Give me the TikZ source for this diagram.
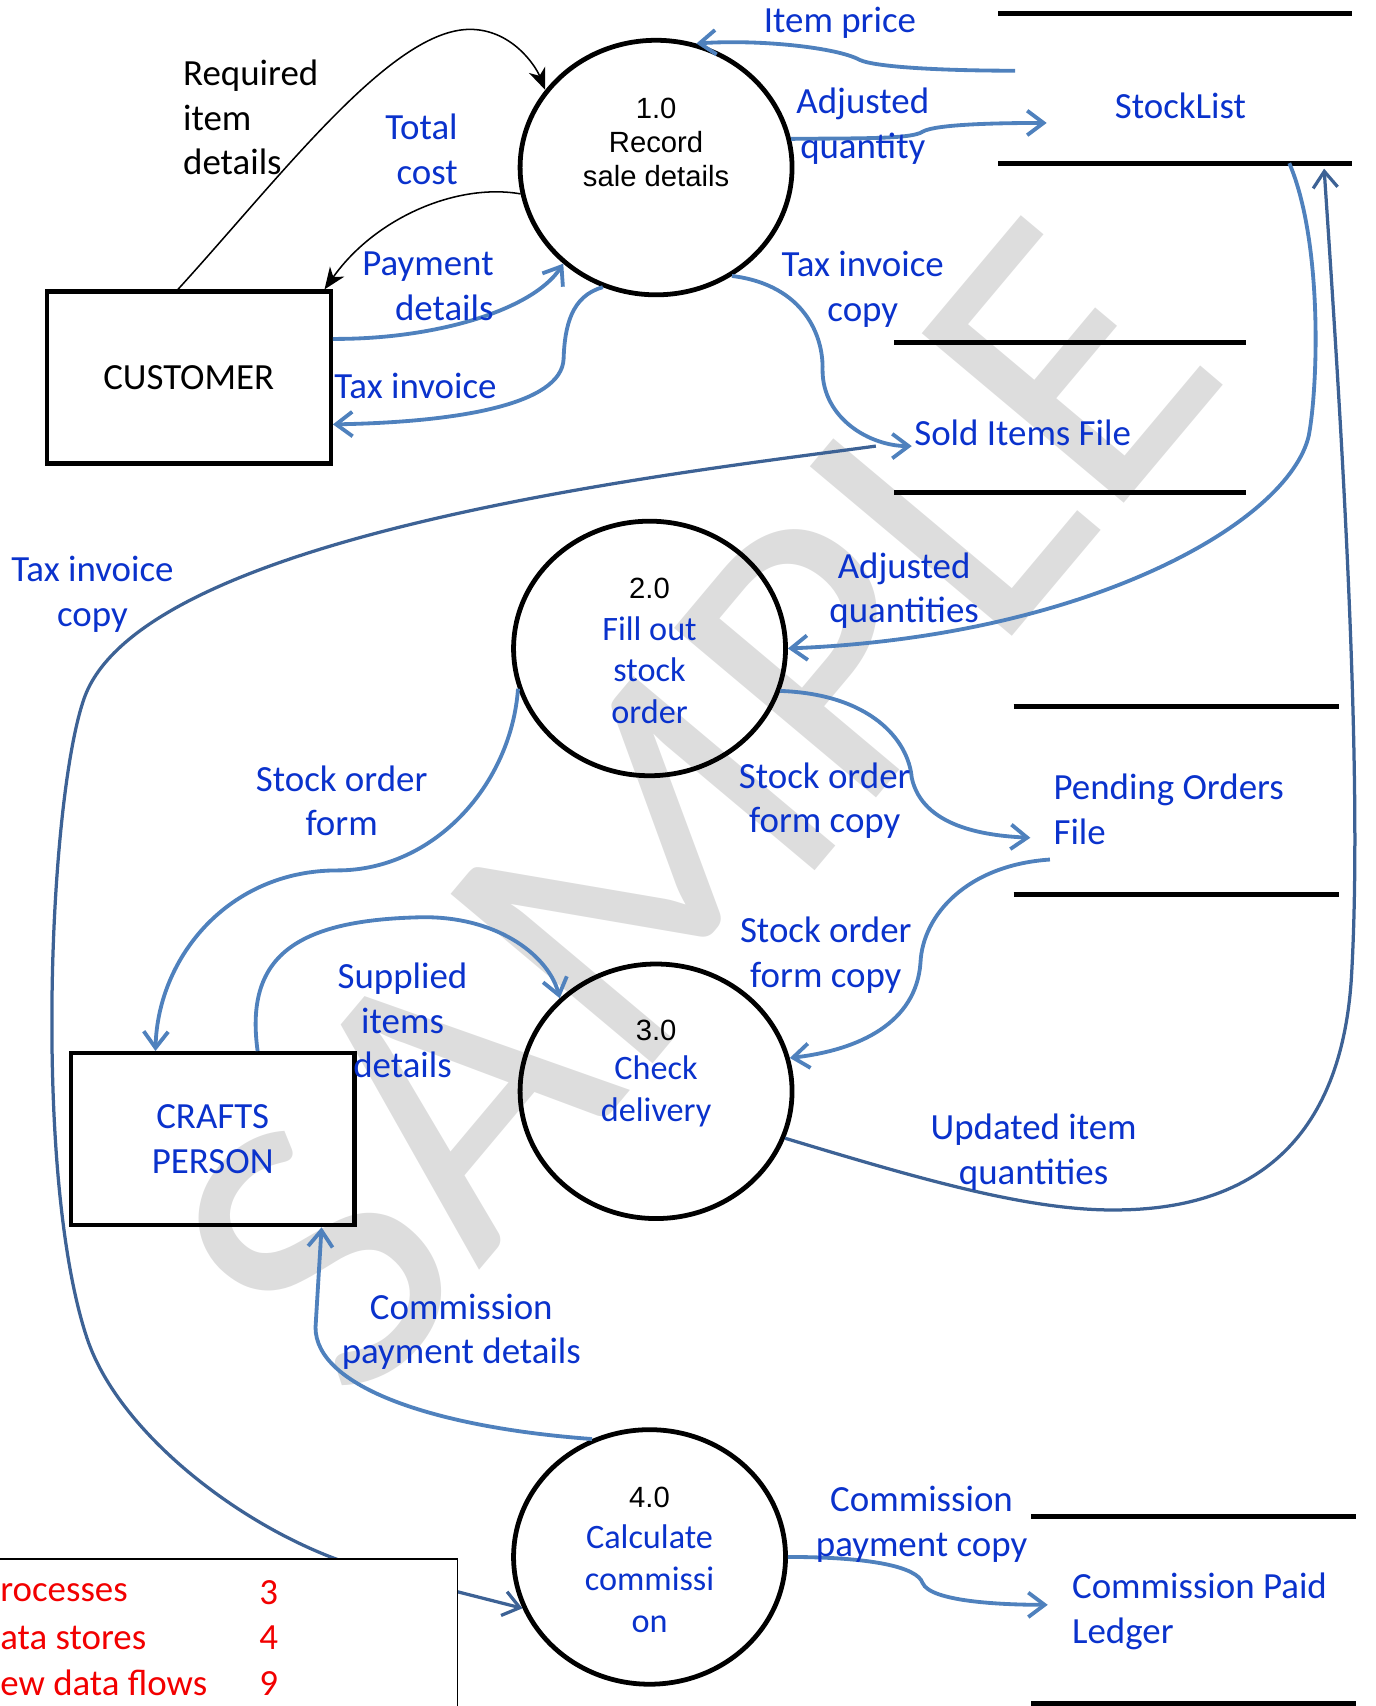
\documentclass[tikz,border=0pt]{standalone}
\usepackage{fontspec}
\setmainfont{Carlito}
\newfontfamily\arialfont{Liberation Sans}
\usetikzlibrary{shapes.geometric,arrows.meta,calc}
\definecolor{flowblue}{HTML}{4F81BD}
\definecolor{flowdark}{HTML}{3D6295}
\definecolor{lblblue}{HTML}{0A32CC}
\definecolor{legred}{HTML}{F20000}
\definecolor{markgray}{HTML}{DDDDDD}

\begin{document}
\begin{tikzpicture}[x=0.02cm,y=-0.02cm,
		proc/.style={ellipse,draw,line width=2.5pt,minimum width=5cm,minimum height=4.68cm,inner sep=0pt},
		ent/.style={rectangle,draw,line width=2.3pt,minimum width=5.22cm,minimum height=3.16cm,inner sep=0pt,font=\fontsize{19.3}{23.4}\selectfont,align=center},
		lbl/.style={text=lblblue,font=\fontsize{19.3}{23.4}\selectfont,align=center,inner sep=0pt},
		blk/.style={lbl,text=black},
		legtxt/.style={lbl,text=legred},
		pnum/.style={font=\arialfont\fontsize{15.3}{17.6}\selectfont,align=center,inner sep=0pt},
		ptext/.style={text=lblblue,font=\fontsize{17.9}{21.9}\selectfont,align=center,inner sep=0pt},
		flow/.style={draw=flowblue,line width=2pt,-{Straight Barb[length=0.3cm,width=0.45cm]}},
		deepflow/.style={draw=flowdark,line width=1.7pt,-{Straight Barb[length=0.3cm,width=0.45cm]}},
		blackflow/.style={draw=black,line width=0.8pt,-{Stealth[length=0.4cm,width=0.32cm,inset=0.12cm]}},
		storeline/.style={line width=2.5pt},
		store/.style={inner sep=0pt}]
	\useasboundingbox (0,0) rectangle (1264,1568);
	%
	\node[rotate=50,anchor=base west,text=markgray,font=\fontsize{215}{215}\selectfont,inner sep=0pt] (mark) at (330,1300) {SAMPLE};
	%
	\node[proc] (p1) at (603,154) {};
	\node[pnum] (p1txt) at (603,131) {1.0\\Record\\sale details};
	\node[proc] (p2) at (597,596) {};
	\node[pnum] (p2num) at (597,541) {2.0};
	\node[ptext] (p2txt) at (597,616) {Fill out\\stock\\order};
	\node[proc] (p3) at (603,1003) {};
	\node[pnum] (p3num) at (603,947) {3.0};
	\node[ptext] (p3txt) at (603,1003) {Check\\delivery};
	\node[proc] (p4) at (597,1431) {};
	\node[pnum] (p4num) at (597,1376) {4.0};
	\node[ptext] (p4txt) at (597,1451) {Calculate\\commissi\\on};
	%
	\node[ent] (cust) at (173.5,347) {CUSTOMER};
	\node[ent,text=lblblue] (crafts) at (195.5,1047) {CRAFTS\\PERSON};
	%
	\node[store,minimum width=6.48cm,minimum height=2.74cm] (stock) at (1080,81.5) {};
	\node[store,minimum width=6.46cm,minimum height=2.74cm] (sold) at (983.5,383.5) {};
	\node[store,minimum width=5.96cm,minimum height=3.44cm] (pend) at (1081,736) {};
	\node[store,minimum width=5.96cm,minimum height=3.42cm] (ledger) at (1097,1479.5) {};
	\foreach \s in {stock,sold,pend,ledger}
		\draw[storeline] (\s.north west) -- (\s.north east) (\s.south west) -- (\s.south east);
	\node[lbl] (stocktxt) at (1085,97) {StockList};
	\node[lbl,anchor=west] (soldtxt) at (840,398) {Sold Items File};
	\node[lbl,anchor=west,align=left] (pendtxt) at (968,744) {Pending Orders\\File};
	\node[lbl,anchor=west,align=left] (ledgertxt) at (985,1481) {Commission Paid\\Ledger};
	%
	\coordinate (stockout) at (933,65);
	\coordinate (stockin) at (962,113);
	\coordinate (stockdown) at (1185,150);
	\coordinate (stockup) at (1217,155);
	\coordinate (soldin) at (838,410);
	\coordinate (soldout) at (805,410);
	\coordinate (pendin) at (947,770);
	\coordinate (pendout) at (965,790);
	\coordinate (ledgerin) at (963,1475);
	%
	\draw[flow] (stockout) .. controls (870,65) and (805,62) .. (790,55) .. controls (770,44) and (700,36) .. (p1.72);
	\draw[flow] (p1.12) .. controls (790,127) and (838,128) .. (848,121) .. controls (860,114) and (920,113) .. (stockin);
	\draw[flow] (p1.-55) .. controls (740,262) and (757,310) .. (756,340) .. controls (756,385) and (800,410) .. (soldin);
	\draw[flow] (cust.15) .. controls (400,312) and (490,285) .. (p1.-134);
	\draw[flow] (p1.-114) .. controls (525,272) and (519,300) .. (518,330) .. controls (516,372) and (420,388) .. (cust.-18);
	\draw[blackflow] (cust.97.6) .. controls (260,160) and (360,27) .. (432,27) .. controls (470,27) and (492,60) .. (p1.145);
	\draw[blackflow] (p1.191) .. controls (420,168) and (345,200) .. (cust.33.5);
	%
	\draw[flow] (stockdown) .. controls (1215,220) and (1212,350) .. (1203,400) .. controls (1185,480) and (1000,585) .. (p2.east);
	\draw[flow] (p2.197) .. controls (470,720) and (400,800) .. (310,800) .. controls (210,800) and (145,880) .. (crafts.123.6);
	\draw[flow] (p2.-18) .. controls (800,638) and (835,680) .. (838,715) .. controls (848,760) and (905,768) .. (pendin);
	%
	\draw[flow] (pendout) .. controls (890,795) and (848,840) .. (846,885) .. controls (842,940) and (790,965) .. (p3.14);
	\draw[flow] (crafts.63.4) .. controls (225,880) and (270,845) .. (390,843) .. controls (460,843) and (505,880) .. (p3.136);
	\draw[deepflow] (p3.-20) .. controls (850,1085) and (950,1114) .. (1031,1112) .. controls (1150,1110) and (1232,1050) .. (1242,900) .. controls (1254,700) and (1230,350) .. (stockup);
	%
	\draw[flow] (p4.116) .. controls (400,1312) and (290,1275) .. (290,1220) -- (crafts.-39.9);
	\draw[flow] (p4.0) .. controls (800,1431) and (843,1440) .. (848,1455) .. controls (855,1472) and (920,1475) .. (ledgerin);
	\draw[deepflow] (soldout) .. controls (620,435) and (135,490) .. (78,640) .. controls (45,730) and (30,1080) .. (80,1230) .. controls (110,1320) and (230,1410) .. (330,1440) -- (p4.202);
	%
	\node[draw,fill=white,line width=0.8pt,anchor=north east,minimum width=8.7cm,minimum height=3.2cm] (legend) at (421,1432) {};
	\node[legtxt,anchor=west] (legproc) at (0,1464) {rocesses};
	\node[legtxt] (legprocn) at (247,1464) {3};
	\node[legtxt,anchor=west] (legstore) at (0,1505) {ata stores};
	\node[legtxt] (legstoren) at (247,1505) {4};
	\node[legtxt,anchor=west] (legflow) at (0,1547) {ew data flows};
	\node[legtxt] (legflown) at (247,1547) {9};
	%
	\node[blk,anchor=west,align=left] (reqlbl) at (168,108) {Required\\item\\details};
	\node[lbl,anchor=east,align=right] (costlbl) at (421,137) {Total\\cost};
	\node[lbl,anchor=east,align=right] (paylbl) at (454,263) {Payment\\details};
	\node[lbl,anchor=west] (taxlbl) at (307,355) {Tax invoice};
	\node[lbl] (pricelbl) at (772,21) {Item price};
	\node[lbl] (adjlbl) at (793,116) {Adjusted\\quantity};
	\node[lbl] (copylbl) at (793,266) {Tax invoice\\copy};
	\node[lbl] (copytwolbl) at (85,546) {Tax invoice\\copy};
	\node[lbl] (adjslbl) at (831,543) {Adjusted\\quantities};
	\node[lbl] (formlbl) at (314,736) {Stock order\\form};
	\node[lbl] (formcopylbl) at (758,736) {Stock order\\form copy};
	\node[lbl] (formcopytwolbl) at (759,878) {Stock order\\form copy};
	\node[lbl] (supplbl) at (370,938) {Supplied\\items\\details};
	\node[lbl] (updlbl) at (950,1059) {Updated item\\quantities};
	\node[lbl] (cpdlbl) at (424,1224) {Commission\\payment details};
	\node[lbl] (cpclbl) at (847,1401) {Commission\\payment copy};
\end{tikzpicture}
\end{document}
